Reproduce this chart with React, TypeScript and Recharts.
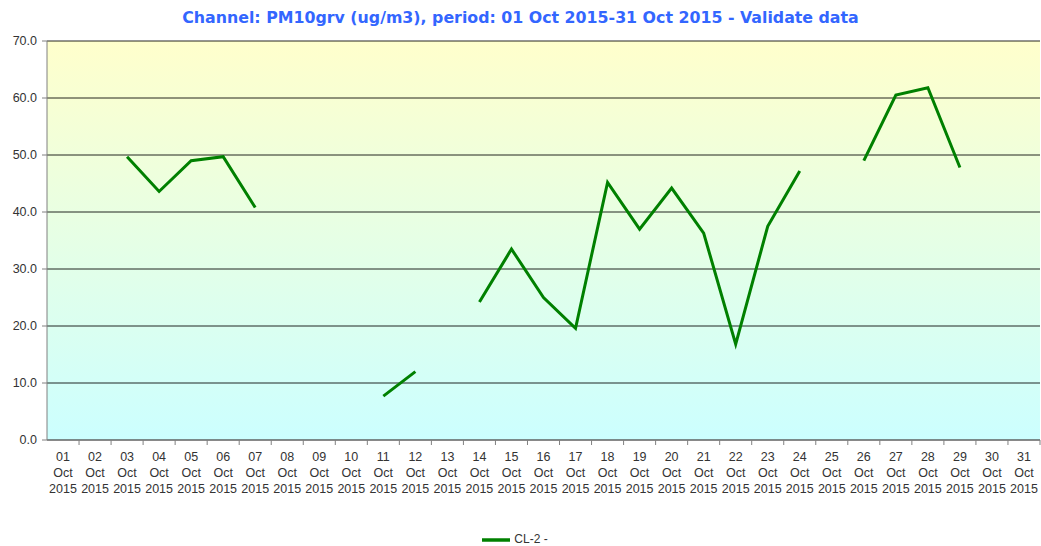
import React from "react";
import {
  LineChart,
  Line,
  XAxis,
  YAxis,
  CartesianGrid,
  Legend,
} from "recharts";

const days = [
  "01", "02", "03", "04", "05", "06", "07", "08", "09", "10",
  "11", "12", "13", "14", "15", "16", "17", "18", "19", "20",
  "21", "22", "23", "24", "25", "26", "27", "28", "29", "30", "31",
];
const monthLabel = "Oct";
const yearLabel = "2015";

// PM10 values, null where no validated data
const pm10: (number | null)[] = [
  null, null, 49.7, 43.6, 49.0, 49.7, 40.8, null, null, null,
  7.7, 12.0, null, 24.2, 33.5, 25.0, 19.6, 45.2, 37.0, 44.2,
  36.3, 16.8, 37.5, 47.2, null, 49.0, 60.5, 61.8, 47.8, null, null,
];
const yTicks = [0, 10, 20, 30, 40, 50, 60, 70];

const seriesName = "CL-2 -";
const title =
  "Channel: PM10grv (ug/m3), period: 01 Oct 2015-31 Oct 2015 - Validate data";

const data = days.map((d, i) => ({ day: d, value: pm10[i] }));

const W = 1041;
const H = 546;
const plotLeft = 47;
const plotRight = 1;
const band = (W - plotLeft - plotRight) / days.length;

const DayTick = (props: any) => {
  const { x, y, payload } = props;
  return (
    <g>
      <line x1={x + band / 2} y1={y - 8} x2={x + band / 2} y2={y - 3} stroke="#808080" />
      <text
        x={x}
        y={y}
        textAnchor="middle"
        fontFamily="'Liberation Sans', Arial, sans-serif"
        fontSize={12.5}
        fill="#333"
      >
        <tspan x={x} dy={13}>{payload.value}</tspan>
        <tspan x={x} dy={16}>{monthLabel}</tspan>
        <tspan x={x} dy={16}>{yearLabel}</tspan>
      </text>
    </g>
  );
};

export default function App() {
  return (
    <div
      style={{
        position: "absolute",
        left: 0,
        top: 0,
        width: W,
        height: H,
        background: "#fff",
      }}
    >
      <div
        style={{
          position: "absolute",
          top: 8,
          left: 0,
          width: W,
          textAlign: "center",
          fontFamily: "'DejaVu Sans', Verdana, sans-serif",
          fontWeight: "bold",
          fontSize: 15.8,
          color: "#3366ff",
        }}
      >
        {title}
      </div>
      <LineChart
        width={W}
        height={H}
        data={data}
        margin={{ top: 41, right: plotRight, left: 0, bottom: 0 }}
      >
        <defs>
          <linearGradient id="bgGrad" x1="0" y1="0" x2="0" y2="1">
            <stop offset="0%" stopColor="#ffffcc" />
            <stop offset="100%" stopColor="#ccffff" />
          </linearGradient>
        </defs>
        <CartesianGrid
          vertical={false}
          stroke="#000"
          strokeOpacity={0.85}
          fill="url(#bgGrad)"
          fillOpacity={1}
        />
        <XAxis
          dataKey="day"
          height={86}
          interval={0}
          padding={{ left: band / 2, right: band / 2 }}
          axisLine={{ stroke: "#808080" }}
          tickLine={false}
          tick={<DayTick />}
        />
        <YAxis
          width={plotLeft}
          domain={[0, 70]}
          ticks={yTicks}
          interval={0}
          tickFormatter={(v: number) => v.toFixed(1)}
          axisLine={{ stroke: "#808080" }}
          tickLine={{ stroke: "#808080" }}
          tickSize={5}
          tickMargin={5}
          tick={{
            fill: "#333",
            fontSize: 12.5,
            fontFamily: "'Liberation Sans', Arial, sans-serif",
          }}
        />
        <Legend
          verticalAlign="bottom"
          height={20}
          iconType="plainline"
          iconSize={28}
          wrapperStyle={{
            fontFamily: "'Liberation Sans', Arial, sans-serif",
            fontSize: 12,
            color: "#333",
          }}
          formatter={(v: string) => <span style={{ color: "#333" }}>{v}</span>}
        />
        <Line
          type="linear"
          dataKey="value"
          name={seriesName}
          stroke="#008000"
          strokeWidth={3}
          dot={false}
          connectNulls={false}
          isAnimationActive={false}
          legendType="plainline"
        />
      </LineChart>
    </div>
  );
}
